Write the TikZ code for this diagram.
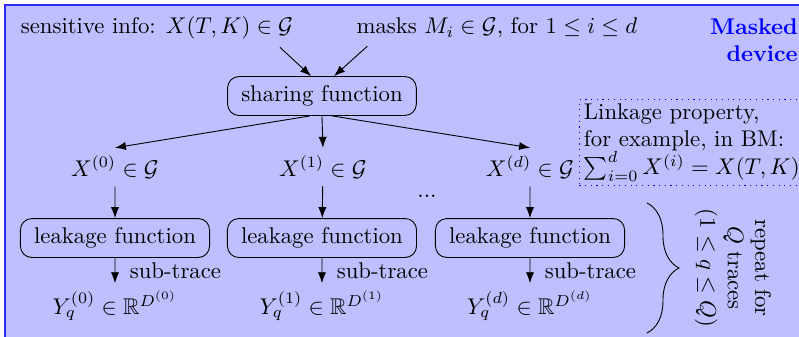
\documentclass[tikz,border=0pt]{standalone}
\usepackage{amsmath, amssymb}
\usepackage{tikz}
\usetikzlibrary{calc,arrows.meta,decorations.pathreplacing}
\definecolor{md-fill}{HTML}{BFBFFF}
\definecolor{md-line}{HTML}{2A2AFF}

\begin{document}
\begin{tikzpicture}[>=Latex, scale=0.935]
    \tikzset{func/.style={draw, rounded corners=5pt, inner xsep=6pt, inner ysep=4pt}}
    \useasboundingbox (0,0) rectangle (13.2,5.567);
    \begin{scope}
        \clip (0,0) rectangle (13.2,5.567);
        \filldraw[draw=md-line, line width=0.6pt, fill=md-fill] (0.083,5.484) rectangle (15,-2);
    \end{scope}
    % inputs
    \node (sens) at (2.594,5.105) {sensitive info: $X(T,K) \in \mathcal{G}$};
    \node (masks) at (8.210,5.105) {masks $M_i \in \mathcal{G}$, for $1 \leq i \leq d$};
    \node[align=right, text=blue, font=\bfseries] (dev) at (12.456,4.906) {Masked\\ device};
    \node[func] (share) at (5.319,3.981) {sharing function};
    \draw[->] ([xshift=-0.35cm]sens.south east) -- ([xshift=-0.18cm]share.north);
    \draw[->] ([xshift=0.31cm]masks.south west) -- ([xshift=0.2cm]share.north);
    % shares
    \node (x0) at (1.900,2.808) {$X^{(0)} \in \mathcal{G}$};
    \node (x1) at (5.336,2.808) {$X^{(1)} \in \mathcal{G}$};
    \node (xd) at (8.756,2.808) {$X^{(d)} \in \mathcal{G}$};
    \node (dots) at (7.054,2.329) {...};
    \draw[->] ([xshift=-0.2cm]share.south) -- (x0.north);
    \draw[->] (share.south) -- (x1.north);
    \draw[->] ([xshift=0.17cm]share.south) -- (xd.north);
    \node[draw=blue, dotted, line width=0.5pt, align=left, inner sep=2pt] (link) at (11.43,3.213)
        {Linkage property,\\ for example, in BM:\\ $\sum_{i=0}^{d} X^{(i)} = X(T,K)$};
    % leakage
    \node[func] (lk0) at (1.900,1.635) {leakage function};
    \node[func] (lk1) at (5.319,1.635) {leakage function};
    \node[func] (lkd) at (8.756,1.635) {leakage function};
    \draw[->] (x0) -- (lk0);
    \draw[->] (x1) -- (lk1);
    \draw[->] (xd) -- (lkd);
    \node (y0) at (1.900,0.512) {$Y_q^{(0)} \in \mathbb{R}^{D^{(0)}}$};
    \node (y1) at (5.319,0.512) {$Y_q^{(1)} \in \mathbb{R}^{D^{(1)}}$};
    \node (yd) at (8.756,0.512) {$Y_q^{(d)} \in \mathbb{R}^{D^{(d)}}$};
    \draw[->] (lk0) -- (y0) node[midway, right=3pt] {sub-trace};
    \draw[->] (lk1) -- (y1) node[midway, right=3pt] {sub-trace};
    \draw[->] (lkd) -- (yd) node[midway, right=3pt] {sub-trace};
    % repetition
    \coordinate (bt) at (10.69,2.214);
    \coordinate (bb) at (10.69,0.066);
    \draw[decorate, decoration={brace, amplitude=14pt}] (bt) -- (bb);
    \node[rotate=-90, align=center] (rep) at (12.109,1.140) {repeat for\\ $Q$ traces\\ $(1 \leq q \leq Q)$};
\end{tikzpicture}
\end{document}
